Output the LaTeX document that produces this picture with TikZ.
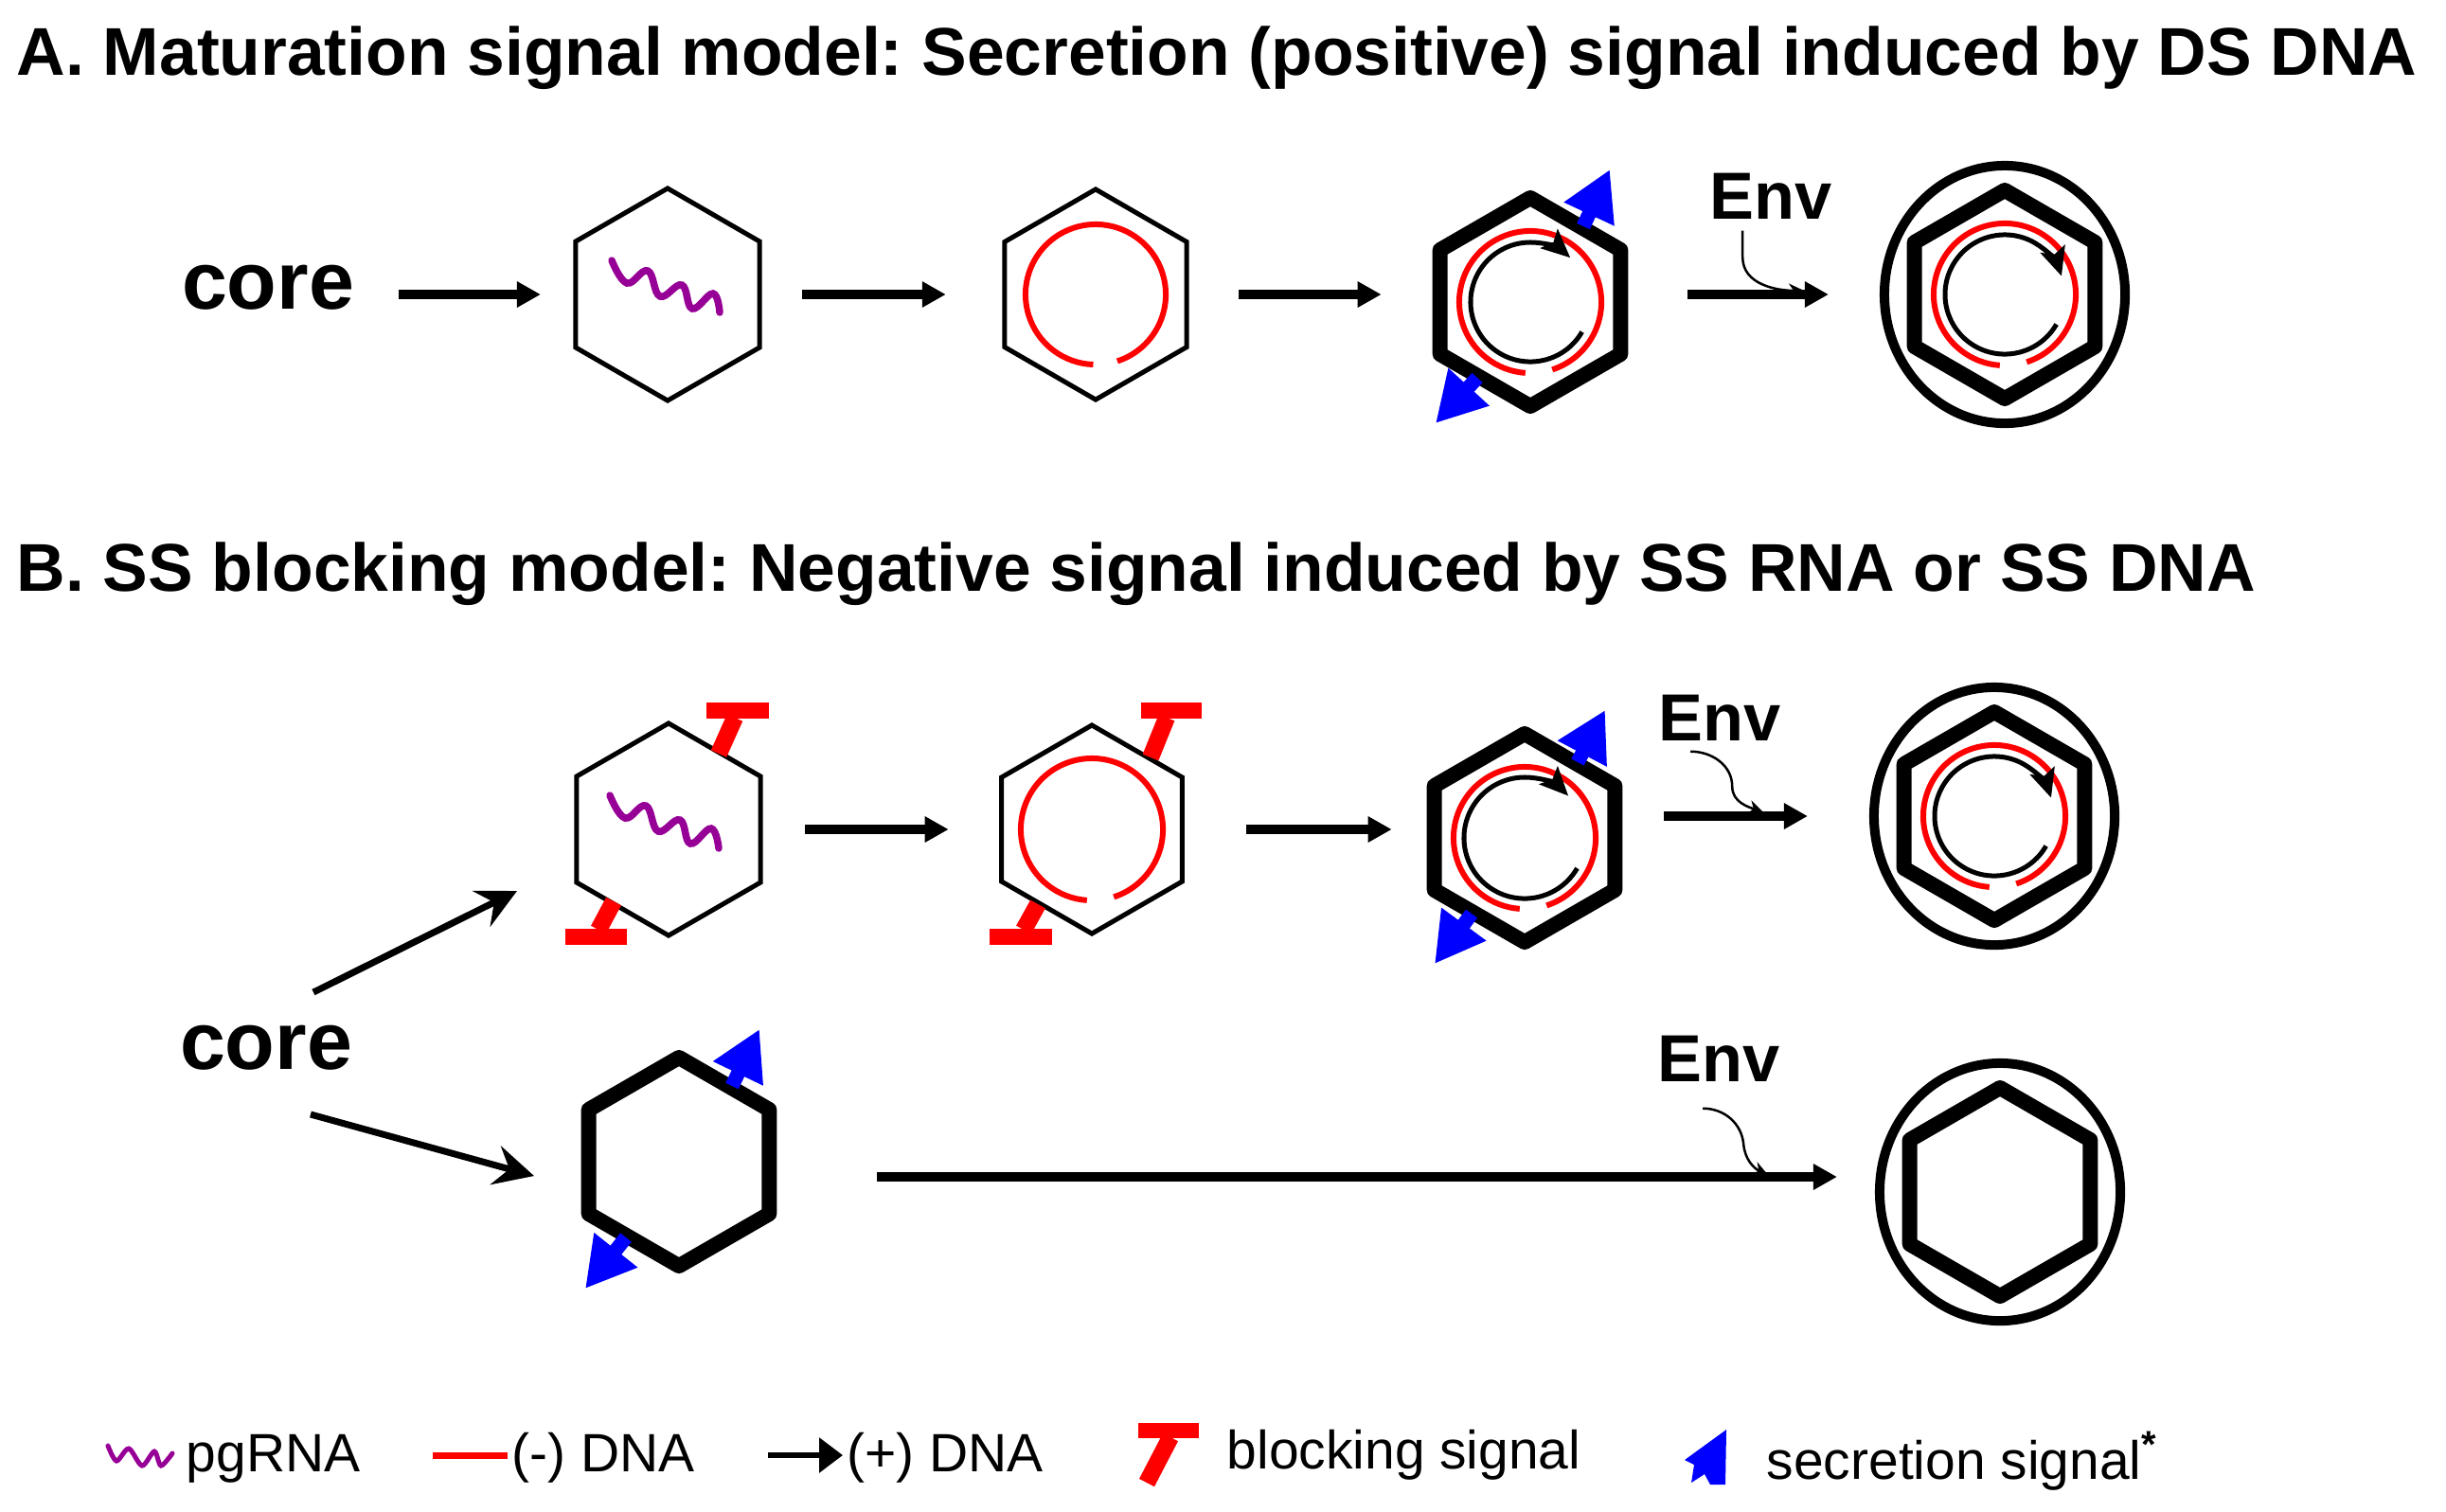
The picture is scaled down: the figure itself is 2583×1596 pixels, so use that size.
\documentclass[tikz,border=0pt]{standalone}
\usepackage{fontspec}
\setmainfont{Liberation Sans}
\usepackage{tikz}
\usetikzlibrary{arrows.meta, shapes.geometric, calc}
\definecolor{rnapurple}{RGB}{150,0,150}
\frenchspacing

\begin{document}
\begin{tikzpicture}[x=0.01cm, y=0.01cm,
  heading/.style={anchor=base west, inner sep=0, font=\fontsize{20.3}{24}\selectfont\bfseries},
  corelbl/.style={inner sep=0, font=\fontsize{24.5}{28}\selectfont\bfseries},
  envlbl/.style={anchor=base west, inner sep=0, font=\fontsize{20}{24}\selectfont\bfseries},
  legtxt/.style={anchor=base west, inner sep=0, font=\fontsize{16.2}{20}\selectfont},
  capsid/.style={draw, regular polygon, regular polygon sides=6, shape border rotate=30,
    minimum size=2.24cm, inner sep=0, outer sep=0, line width=0.05cm},
  matcapsid/.style={capsid, minimum size=2.2cm, line width=0.16cm, line join=round},
  envelope/.style={draw, ellipse, minimum width=2.54cm, minimum height=2.72cm,
    inner sep=0, outer sep=0, line width=0.1cm},
  flow/.style={line width=0.1cm, -{Triangle[length=0.25cm, width=0.26cm]}},
  coreflow/.style={line width=0.07cm, -{Stealth[length=0.42cm, width=0.42cm, inset=0.15cm]}},
  envcurve/.style={line width=0.025cm, -{Stealth[length=0.16cm, width=0.15cm]}},
  minusdna/.style={red, line width=0.06cm},
  plusdna/.style={line width=0.05cm, -{Stealth[length=0.3cm, width=0.27cm, inset=0.06cm]}},
  pgrna/.style={rnapurple, line width=0.075cm, line cap=round},
  secretion/.style={blue, line width=0.15cm, -{Triangle[length=0.52cm, width=0.55cm]}},
  blockstem/.style={red, line width=0.18cm}
]
\useasboundingbox (0,0) rectangle (2583,-1596);

% titles
\node[heading] (titleA) at (17,-79) {A. Maturation signal model: Secretion (positive) signal induced by DS DNA};
\node[heading] (titleB) at (17,-624) {B. SS blocking model: Negative signal induced by SS RNA or SS DNA};

% A: maturation
\node[corelbl] (coreA) at (283,-304) {core};
\node[capsid] (hA1) at (705,-311) {};
\node[capsid, minimum size=2.22cm] (hA2) at (1157,-311) {};
\node[matcapsid] (hA3) at (1616,-319) {};
\node[envelope] (eA4) at (2117,-311) {};
\node[matcapsid] (hA4) at (2117,-311) {};
\node[envlbl] (envA) at (1805,-231) {Env};
\coordinate (jA) at (1905,-307);

\begin{scope}[shift={(hA1.center)}]
\draw[pgrna] plot[smooth, tension=0.7] coordinates {(-59,36) (-43,12) (-21,25) (-8,-2) (15,10) (26,-15) (48,1) (55,-19)};
\end{scope}
\begin{scope}[shift={(hA2.center)}]
\draw[minusdna] (-72:0.74cm) arc[start angle=-72, end angle=268, radius=0.74cm];
\end{scope}
\begin{scope}[shift={(hA3.center)}]
\draw[minusdna] (-72:0.75cm) arc[start angle=-72, end angle=266, radius=0.75cm];
\draw[plusdna] (-30:0.63cm) arc[start angle=-30, end angle=-312, radius=0.63cm];
\draw[secretion] (56,80) -- (84,140);
\draw[secretion] (-56,-80) -- (-100,-128);
\end{scope}
\begin{scope}[shift={(hA4.center)}]
\draw[minusdna] (-72:0.75cm) arc[start angle=-72, end angle=266, radius=0.75cm];
\draw[plusdna] (-30:0.63cm) arc[start angle=-30, end angle=-342, radius=0.63cm];
\end{scope}

\draw[flow, shorten <=0.46cm, shorten >=0.37cm] (coreA.east |- hA1.west) -- (hA1.west);
\draw[flow, shorten <=0.45cm, shorten >=0.62cm] (hA1.east) -- (hA2.west);
\draw[flow, shorten <=0.55cm, shorten >=0.62cm] (hA2.east) -- (hA2.east -| hA3.west);
\draw[flow, shorten <=0.71cm, shorten >=0.59cm] (hA3.east |- eA4.west) -- (eA4.west);
\draw[envcurve] ([shift={(-30,-12)}]envA.south) -- ++(0,-28) to[out=-90, in=180] (jA);

% B: blocking
\node[corelbl] (coreB) at (281,-1107) {core};
\node[capsid] (hB1) at (706,-876) {};
\node[capsid, minimum size=2.2cm] (hB2) at (1153,-876) {};
\node[matcapsid] (hB3) at (1610,-885) {};
\node[envelope] (eB4) at (2106,-862) {};
\node[matcapsid] (hB4) at (2106,-862) {};
\node[envlbl] (envB) at (1751,-782) {Env};
\coordinate (jB) at (1862,-858);
\node[matcapsid] (hB5) at (717,-1227) {};
\node[envelope] (eB6) at (2112,-1259) {};
\node[matcapsid] (hB6) at (2112,-1259) {};
\node[envlbl] (envC) at (1750,-1142) {Env};
\coordinate (mB) at ($(hB5.east)!0.5!(eB6.west)$);
\coordinate (jC) at (1867,-1241);

\begin{scope}[shift={(hB1.center)}]
\draw[pgrna] plot[smooth, tension=0.7] coordinates {(-62,36) (-46,12) (-24,25) (-11,-2) (12,10) (23,-15) (45,1) (53,-20)};
\draw[blockstem] (53,80) -- (70,118);
\fill[red] (40,117) rectangle (106,134);
\draw[blockstem] (-58,-76) -- (-74,-106);
\fill[red] (-109,-105) rectangle (-44,-122);
\end{scope}
\begin{scope}[shift={(hB2.center)}]
\draw[minusdna] (-72:0.75cm) arc[start angle=-72, end angle=266, radius=0.75cm];
\draw[blockstem] (62,76) -- (79,118);
\fill[red] (52,117) rectangle (116,134);
\draw[blockstem] (-57,-79) -- (-72,-106);
\fill[red] (-108,-105) rectangle (-42,-122);
\end{scope}
\begin{scope}[shift={(hB3.center)}]
\draw[minusdna] (-72:0.75cm) arc[start angle=-72, end angle=266, radius=0.75cm];
\draw[plusdna] (-30:0.64cm) arc[start angle=-30, end angle=-316, radius=0.64cm];
\draw[secretion] (56,80) -- (85,135);
\draw[secretion] (-56,-80) -- (-95,-133);
\end{scope}
\begin{scope}[shift={(hB4.center)}]
\draw[minusdna] (-72:0.75cm) arc[start angle=-72, end angle=266, radius=0.75cm];
\draw[plusdna] (-30:0.63cm) arc[start angle=-30, end angle=-342, radius=0.63cm];
\end{scope}
\begin{scope}[shift={(hB5.center)}]
\draw[secretion] (56,80) -- (85,140);
\draw[secretion] (-56,-80) -- (-99,-134);
\end{scope}

\draw[coreflow] (coreB.center) ++(50,59) -- ++(215,107);
\draw[coreflow] (coreB.center) ++(47,-70) -- ++(236,-65);
\draw[flow, shorten <=0.47cm, shorten >=0.56cm] (hB1.east) -- (hB2.west);
\draw[flow, shorten <=0.68cm, shorten >=0.45cm] (hB2.east) -- (hB2.east -| hB3.west);
\draw[flow, shorten <=0.52cm, shorten >=0.70cm] (hB3.east |- eB4.west) -- (eB4.west);
\draw[envcurve] ([shift={(-31,-11)}]envB.south) to[out=0, in=90] ++(44,-37) to[out=-90, in=160] (jB);
\draw[flow, shorten <=1.14cm, shorten >=0.45cm] (hB5.east |- mB) -- (eB6.west |- mB);
\draw[envcurve] ([shift={(-17,-28)}]envC.south) to[out=0, in=95] ++(43,-38) to[out=-85, in=155] (jC);

% legend
\draw[pgrna, line width=0.05cm] plot[smooth] coordinates {(114,-1527) (123,-1543) (136,-1530) (150,-1548) (163,-1533) (170,-1548) (182,-1535)};
\node[legtxt] (lgRNA) at (196,-1554) {pgRNA};
\draw[minusdna, line width=0.07cm] (457,-1537) -- (536,-1537);
\node[legtxt] (lgMinus) at (540,-1554) {(-) DNA};
\draw[line width=0.06cm, -{Triangle[length=0.25cm, width=0.36cm]}] (811,-1537) -- (890,-1537);
\node[legtxt] (lgPlus) at (894,-1554) {(+) DNA};
\draw[blockstem] (1211,-1566) -- (1236,-1518);
\fill[red] (1202,-1503) rectangle (1266,-1519);
\node[legtxt] (lgBlock) at (1295,-1551) {blocking signal};
\fill[blue] (1823,-1510) -- (1779,-1542) -- (1789,-1547) -- (1786,-1566) -- (1800,-1557) -- (1806,-1568) -- (1822,-1568) -- cycle;
\node[legtxt] (lgSecr) at (1865,-1562) {secretion signal\textsuperscript{\textbf{*}}};
\end{tikzpicture}
\end{document}
